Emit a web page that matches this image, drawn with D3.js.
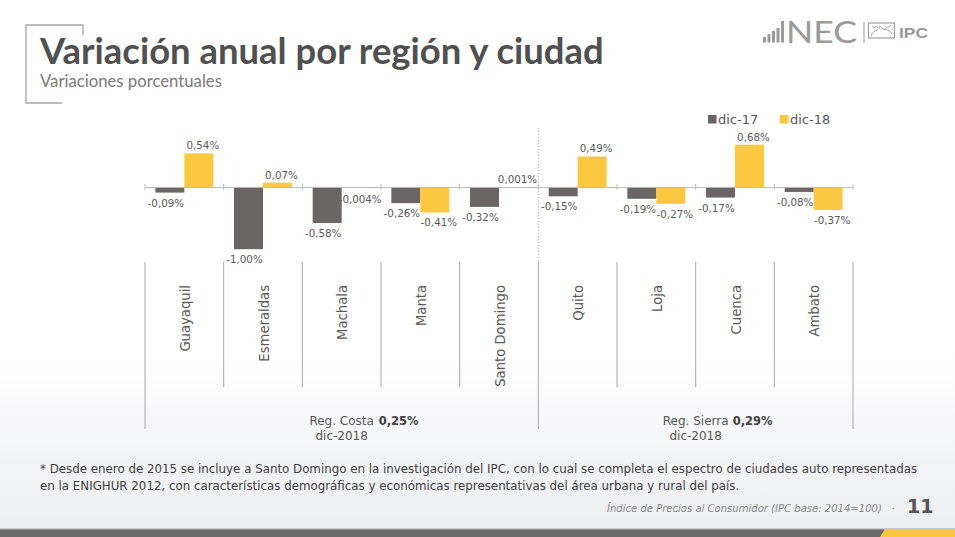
<!DOCTYPE html>
<html>
<head>
<meta charset="utf-8">
<script src="https://cdn.jsdelivr.net/npm/d3@7"></script>
<style>
  html, body { margin: 0; padding: 0; background: #fff; }
  svg { display: block; }
</style>
</head>
<body>
<svg id="chart" width="955" height="537"></svg>
<script>
// ---------------- DATA ----------------
const cities = ["Guayaquil", "Esmeraldas", "Machala", "Manta", "Santo Domingo", "Quito", "Loja", "Cuenca", "Ambato"];
const seriesNames = ["dic-17", "dic-18"];
const dic17 = [-0.09, -1.00, -0.58, -0.26, -0.32, -0.15, -0.19, -0.17, -0.08];
const dic18 = [0.54, 0.07, -0.004, -0.41, 0.001, 0.49, -0.27, 0.68, -0.37];
const regionNames = ["Reg. Costa", "Reg. Sierra"];
const regionCityCounts = [5, 4];
const regionValues = ["0,25%", "0,29%"];
const regionPeriod = "dic-2018";
const titleText = "Variación anual por región y ciudad";
const subtitleText = "Variaciones porcentuales";
const footnoteLines = [
  "* Desde enero de 2015 se incluye a Santo Domingo en la investigación del IPC, con lo cual se completa el espectro de ciudades auto representadas",
  "en la ENIGHUR 2012, con características demográficas y económicas representativas del área urbana y rural del país."
];
const sourceText = "Índice de Precios al Consumidor (IPC base: 2014=100)";
const pageNumber = "11";

// ---------------- SETUP ----------------
const svg = d3.select("#chart");
const W = 955, H = 537;
const colors = { "dic-17": "#6b6565", "dic-18": "#fcc83f" };
const bodyFont = "'DejaVu Sans', sans-serif";
const titleFont = "Lato, 'DejaVu Sans', sans-serif";

function fitWidth(sel, target) {
  const fs = parseFloat(sel.attr("font-size"));
  const L = sel.node().getComputedTextLength();
  if (L > 0) sel.attr("font-size", fs * target / L);
  return sel;
}

// background
const defs = svg.append("defs");
const grad = defs.append("linearGradient").attr("id", "bg").attr("x1", 0).attr("y1", 0).attr("x2", 0).attr("y2", 1);
grad.append("stop").attr("offset", "0%").attr("stop-color", "#ffffff");
grad.append("stop").attr("offset", "66%").attr("stop-color", "#ffffff");
grad.append("stop").attr("offset", "85%").attr("stop-color", "#f3f4f6");
grad.append("stop").attr("offset", "100%").attr("stop-color", "#eceef0");
svg.append("rect").attr("width", W).attr("height", H).attr("fill", "url(#bg)");

// bottom band
svg.append("rect").attr("x", 0).attr("y", 529).attr("width", W).attr("height", 8).attr("fill", "#6b6b6b");
svg.append("rect").attr("x", 0).attr("y", 528.5).attr("width", W).attr("height", 1.2).attr("fill", "#a3a3a3");
svg.append("path").attr("d", "M885,529 L955,529 L955,537 L880,537 Z").attr("fill", "#fcc83f");

// bracket
svg.append("path")
  .attr("d", "M83,35 L83,25 L26,25 L26,103 L62,103")
  .attr("fill", "none").attr("stroke", "#a6a6a6").attr("stroke-width", 1.3);

// title
const title = svg.append("text").attr("x", 40).attr("y", 64)
  .attr("font-family", titleFont).attr("font-weight", 700).attr("font-size", 30)
  .attr("fill", "#505050").text(titleText);
fitWidth(title, 564);
const sub = svg.append("text").attr("x", 40).attr("y", 87)
  .attr("font-family", titleFont).attr("font-size", 15)
  .attr("fill", "#7a7a7a").text(subtitleText);
fitWidth(sub, 182);

// logo
const logo = svg.append("g").attr("fill", "#9a9a9a");
[[763, 37], [767.5, 34], [772, 31], [776.5, 28], [781, 21]].forEach(([x, y]) => {
  logo.append("rect").attr("x", x).attr("y", y).attr("width", 3).attr("height", 42.5 - y);
});
logo.append("text").attr("x", 786).attr("y", 42.5).attr("font-family", titleFont).attr("font-weight", 400)
  .attr("font-size", 30).attr("textLength", 71).attr("lengthAdjust", "spacingAndGlyphs").text("NEC");
logo.append("rect").attr("x", 863.5).attr("y", 22).attr("width", 1).attr("height", 21);
svg.append("rect").attr("x", 868.5).attr("y", 23).attr("width", 26).attr("height", 15)
  .attr("fill", "none").attr("stroke", "#a0a0a0").attr("stroke-width", 1.2);
svg.append("path").attr("d", "M871,36 C874,28 878,33 880,26 M880,26 C884,32 888,27 892,34 M872,27 L878,27 M884,30 C886,26 889,28 891,25")
  .attr("fill", "none").attr("stroke", "#a0a0a0").attr("stroke-width", 1);
logo.append("text").attr("x", 899).attr("y", 37.5).attr("font-family", "'Liberation Sans', sans-serif")
  .attr("font-weight", 700).attr("font-size", 15).attr("textLength", 29).attr("lengthAdjust", "spacingAndGlyphs").text("IPC");

// ---------------- SCALES ----------------
const x = d3.scaleBand().domain(cities).range([145, 853]).paddingInner(0).paddingOuter(0);
const xs = d3.scaleBand().domain(seriesNames).range([0, x.bandwidth()]).paddingInner(0).paddingOuter(0.357);
const y = d3.scaleLinear().domain([-1.0, 0.8]).range([249.2, 137.2]);
const y0 = y(0);

const rows = cities.map((c, i) => ({ city: c, values: [
  { s: "dic-17", v: dic17[i] }, { s: "dic-18", v: dic18[i] }
] }));

// region extents
const regionEdges = [];
let acc = 0;
regionCityCounts.forEach((n) => {
  const start = x(cities[acc]);
  acc += n;
  const end = acc < cities.length ? x(cities[acc]) : x.range()[1];
  regionEdges.push([start, end]);
});
// dotted region divider in plot area
svg.append("line").attr("x1", regionEdges[0][1]).attr("x2", regionEdges[0][1])
  .attr("y1", 128).attr("y2", 262).attr("stroke", "#b5b5b5").attr("stroke-width", 1)
  .attr("stroke-dasharray", "1.2,1.8");

// bars
const g = svg.append("g");
const groups = g.selectAll("g.city").data(rows).join("g").attr("class", "city")
  .attr("transform", d => `translate(${x(d.city)},0)`);
groups.selectAll("rect").data(d => d.values).join("rect")
  .attr("x", d => xs(d.s)).attr("width", xs.bandwidth())
  .attr("y", d => Math.min(y(d.v), y0))
  .attr("height", d => Math.abs(y(d.v) - y0))
  .attr("fill", d => colors[d.s]);

// axis line
const axis = d3.axisBottom(x).tickSize(0).tickFormat("");
const axG = svg.append("g").attr("transform", `translate(0,${y0})`).call(axis);
axG.select(".domain").attr("stroke", "#bdbdbd").attr("stroke-width", 1);
const boundaries = cities.map(c => x(c)).concat([x.range()[1]]);
svg.append("g").selectAll("line").data(boundaries).join("line")
  .attr("x1", d => d).attr("x2", d => d).attr("y1", y0 - 3).attr("y2", y0 + 3)
  .attr("stroke", "#bdbdbd").attr("stroke-width", 1);

// value labels (Spanish decimal comma, ASCII hyphen minus)
const locale = d3.formatLocale({ decimal: ",", thousands: ".", grouping: [3], currency: ["", ""], minus: "-" });
const fmt = v => {
  const dec = Math.abs(v) < 0.01 ? 3 : 2;
  return locale.format(`.${dec}f`)(v) + "%";
};
groups.selectAll("text.val").data(d => d.values).join("text").attr("class", "val")
  .attr("x", d => xs(d.s) + xs.bandwidth() / 2 + (d.s === "dic-17" ? -4 : 4))
  .attr("y", d => d.v >= 0 ? y(d.v) - 4 : Math.max(y(d.v) + 14, y0 + 16))
  .attr("text-anchor", "middle").attr("font-family", bodyFont).attr("font-size", 10.3)
  .attr("fill", "#595959").text(d => fmt(d.v));

// multi-level category axis
const sep = svg.append("g").attr("stroke", "#a8a8a8").attr("stroke-width", 1);
const regionEdgeXs = [regionEdges[0][0], regionEdges[1][0], regionEdges[1][1]];
boundaries.forEach(b => {
  const isRegion = regionEdgeXs.some(r => Math.abs(r - b) < 0.5);
  sep.append("line").attr("x1", b).attr("x2", b).attr("y1", 262).attr("y2", isRegion ? 429 : 387);
});

svg.append("g").selectAll("text").data(cities).join("text")
  .attr("transform", d => `translate(${x(d) + x.bandwidth() / 2 + 1},285) rotate(-90)`)
  .attr("dy", "0.36em").attr("text-anchor", "end")
  .attr("font-family", bodyFont).attr("font-size", 13.2).attr("fill", "#5a5a5a")
  .text(d => d);

regionNames.forEach((r, i) => {
  const cx = (regionEdges[i][0] + regionEdges[i][1]) / 2;
  svg.append("text").attr("x", cx).attr("y", 425).attr("text-anchor", "middle")
    .attr("font-family", bodyFont).attr("font-size", 12).attr("fill", "#555555").text(r);
  svg.append("text").attr("x", cx).attr("y", 439.5).attr("text-anchor", "middle")
    .attr("font-family", bodyFont).attr("font-size", 12).attr("fill", "#555555").text(regionPeriod);
  svg.append("text").attr("x", cx + 37).attr("y", 425)
    .attr("font-family", bodyFont).attr("font-weight", 700).attr("font-size", 11.5).attr("fill", "#404040")
    .text(regionValues[i]);
});

// legend
const leg = svg.append("g");
const legX = [708, 780];
seriesNames.forEach((s, i) => {
  leg.append("rect").attr("x", legX[i]).attr("y", 115).attr("width", 8.5).attr("height", 8.5).attr("fill", colors[s]);
  leg.append("text").attr("x", legX[i] + 10).attr("y", 124).attr("font-family", bodyFont)
    .attr("font-size", 13).attr("fill", "#595959").text(s);
});

// footnote
const fn = footnoteLines.map((t, i) => svg.append("text").attr("x", 40).attr("y", 473 + i * 16.5)
    .attr("font-family", bodyFont).attr("font-size", 11).attr("fill", "#404040").text(t));
fitWidth(fn[0], 878);
fn[1].attr("font-size", fn[0].attr("font-size"));

// source + page
const src = svg.append("text").attr("x", 607).attr("y", 512).attr("font-family", bodyFont)
  .attr("font-style", "italic").attr("font-size", 10).attr("fill", "#8a8a8a").text(sourceText);
fitWidth(src, 275);
svg.append("text").attr("x", 893).attr("y", 512).attr("text-anchor", "middle").attr("font-family", bodyFont)
  .attr("font-size", 10).attr("fill", "#8a8a8a").text("·");
svg.append("text").attr("x", 907).attr("y", 513).attr("font-family", bodyFont).attr("font-weight", 700)
  .attr("font-size", 19).attr("fill", "#555555").text(pageNumber);
</script>
</body>
</html>
